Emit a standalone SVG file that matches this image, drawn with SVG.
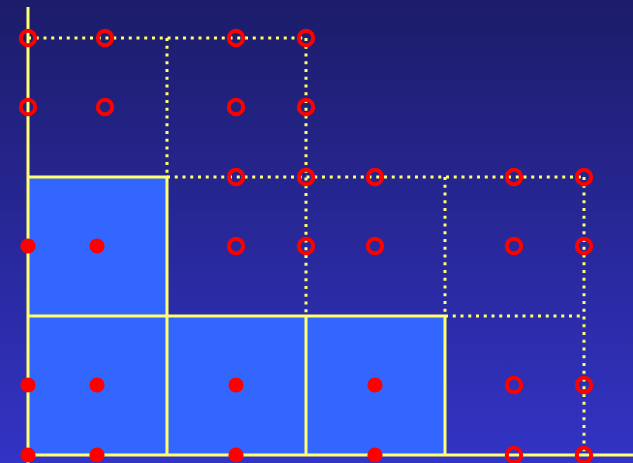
<svg xmlns="http://www.w3.org/2000/svg" width="633" height="463" viewBox="0 0 633 463">
<defs>
<linearGradient id="bg" x1="0" y1="0" x2="0" y2="1">
<stop offset="0" stop-color="#1c1c6a"/>
<stop offset="1" stop-color="#3333c6"/>
</linearGradient>
<style>
.sq{fill:#3366ff;stroke:none}
.solid{stroke:#ffff70;stroke-width:3;fill:none}
.dot{stroke:#ffff70;stroke-width:3;fill:none;stroke-dasharray:3 4.75}
.open{fill:none;stroke:#ff0000;stroke-width:4}
.full{fill:#ff0000;stroke:none}
</style>
</defs>
<rect width="633" height="463" fill="url(#bg)"/>
<g id="squares">
<rect class="sq" x="28" y="177" width="139" height="139"/>
<rect class="sq" x="28" y="316" width="417" height="139"/>
</g>
<g id="connectors">
<path class="dot" d="M28 38H306M167 38V177M306 38V316M167 177H584M445 177V316M445 316H584M584 177V455"/>
<path class="solid" d="M28 7V463M28 455H633M28 177H167V455M28 316H445M306 316V455M445 316V455"/>
</g>
<g id="open-circles">
<circle class="open" cx="28" cy="38" r="7.2"/>
<circle class="open" cx="105" cy="38" r="7.2"/>
<circle class="open" cx="236" cy="38" r="7.2"/>
<circle class="open" cx="306" cy="38" r="7.2"/>
<circle class="open" cx="28" cy="107" r="7.2"/>
<circle class="open" cx="105" cy="107" r="7.2"/>
<circle class="open" cx="236" cy="107" r="7.2"/>
<circle class="open" cx="306" cy="107" r="7.2"/>
<circle class="open" cx="236" cy="177" r="7.2"/>
<circle class="open" cx="306" cy="177" r="7.2"/>
<circle class="open" cx="375" cy="177" r="7.2"/>
<circle class="open" cx="514" cy="177" r="7.2"/>
<circle class="open" cx="584" cy="177" r="7.2"/>
<circle class="open" cx="236" cy="246" r="7.2"/>
<circle class="open" cx="306" cy="246" r="7.2"/>
<circle class="open" cx="375" cy="246" r="7.2"/>
<circle class="open" cx="514" cy="246" r="7.2"/>
<circle class="open" cx="584" cy="246" r="7.2"/>
<circle class="open" cx="514" cy="385" r="7.2"/>
<circle class="open" cx="584" cy="385" r="7.2"/>
<circle class="open" cx="514" cy="455" r="7.2"/>
<circle class="open" cx="584" cy="455" r="7.2"/>
</g>
<g id="filled-circles">
<circle class="full" cx="28" cy="246" r="7.6"/>
<circle class="full" cx="97" cy="246" r="7.6"/>
<circle class="full" cx="28" cy="385" r="7.6"/>
<circle class="full" cx="97" cy="385" r="7.6"/>
<circle class="full" cx="236" cy="385" r="7.6"/>
<circle class="full" cx="375" cy="385" r="7.6"/>
<circle class="full" cx="28" cy="455" r="7.6"/>
<circle class="full" cx="97" cy="455" r="7.6"/>
<circle class="full" cx="236" cy="455" r="7.6"/>
<circle class="full" cx="375" cy="455" r="7.6"/>
</g>
</svg>
